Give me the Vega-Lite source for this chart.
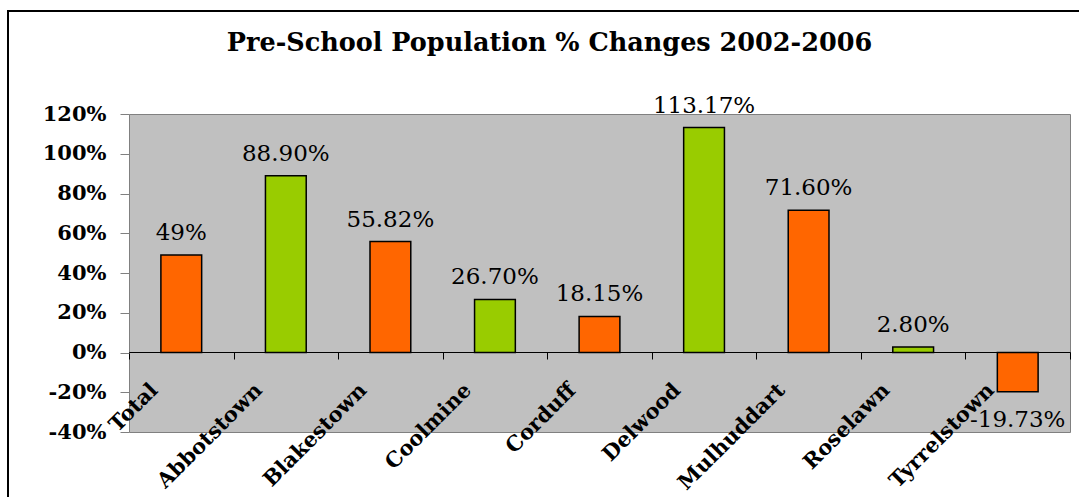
{
  "$schema": "https://vega.github.io/schema/vega-lite/v6.json",
  "width": 941,
  "height": 318,
  "autosize": {"type": "none"},
  "padding": {"left": 129, "top": 114, "right": 9, "bottom": 65},
  "background": "white",
  "config": {
    "view": {"fill": "#C0C0C0", "stroke": "#808080", "strokeWidth": 1},
    "font": "DejaVu Serif",
    "axis": {"grid": false}
  },
  "title": {
    "text": "Pre-School Population % Changes 2002-2006",
    "font": "DejaVu Serif",
    "fontSize": 25.5,
    "fontWeight": "bold",
    "color": "black",
    "anchor": "middle",
    "frame": "group",
    "baseline": "alphabetic",
    "dx": -50,
    "offset": -66
  },
  "data": {
    "values": [
      {"area": "Total", "change": 49, "label": "49%", "group": "orange"},
      {"area": "Abbotstown", "change": 88.9, "label": "88.90%", "group": "green"},
      {"area": "Blakestown", "change": 55.82, "label": "55.82%", "group": "orange"},
      {"area": "Coolmine", "change": 26.7, "label": "26.70%", "group": "green"},
      {"area": "Corduff", "change": 18.15, "label": "18.15%", "group": "orange"},
      {"area": "Delwood", "change": 113.17, "label": "113.17%", "group": "green"},
      {"area": "Mulhuddart", "change": 71.6, "label": "71.60%", "group": "orange"},
      {"area": "Roselawn", "change": 2.8, "label": "2.80%", "group": "green"},
      {"area": "Tyrrelstown", "change": -19.73, "label": "-19.73%", "group": "orange"}
    ]
  },
  "layer": [
    {
      "data": {"values": [{}]},
      "mark": {"type": "rect", "filled": false, "stroke": "black", "strokeWidth": 2, "clip": false},
      "encoding": {
        "x": {"datum": 0, "type": "quantitative", "scale": {"domain": [0, 1], "range": [-121, 960]}, "axis": null},
        "x2": {"datum": 1},
        "y": {"datum": 0, "type": "quantitative", "scale": {"domain": [0, 1], "range": [400, -103]}, "axis": null},
        "y2": {"datum": 1}
      }
    },
    {
      "encoding": {
        "x": {
          "field": "area",
          "type": "nominal",
          "sort": null,
          "scale": {"paddingInner": 0, "paddingOuter": 0},
          "axis": {
            "orient": "bottom",
            "offset": -80,
            "title": null,
            "domainColor": "black",
            "domainWidth": 1,
            "tickBand": "extent",
            "tickColor": "black",
            "tickSize": 7,
            "labelAngle": -45,
            "labelAlign": "right",
            "labelBaseline": "top",
            "labelFont": "DejaVu Serif",
            "labelFontSize": 21,
            "labelFontWeight": "bold",
            "labelColor": "black",
            "labelOffset": -35,
            "labelPadding": 20,
            "labelOverlap": false,
            "labelBound": false,
            "labelFlush": false
          }
        },
        "y": {
          "field": "change",
          "type": "quantitative",
          "scale": {"domain": [-40, 120], "nice": false},
          "axis": {
            "title": null,
            "values": [-40, -20, 0, 20, 40, 60, 80, 100, 120],
            "labelExpr": "datum.value + '%'",
            "domain": false,
            "tickColor": "#808080",
            "tickSize": 9,
            "labelPadding": 14,
            "labelFont": "DejaVu Serif",
            "labelFontSize": 21,
            "labelFontWeight": "bold",
            "labelColor": "black"
          }
        }
      },
      "layer": [
        {
          "mark": {"type": "bar", "width": {"band": 0.39}, "stroke": "black", "strokeWidth": 1.5},
          "encoding": {
            "y2": {"datum": 0},
            "color": {
              "field": "group",
              "type": "nominal",
              "scale": {"domain": ["orange", "green"], "range": ["#FF6600", "#99CC00"]},
              "legend": null
            }
          }
        },
        {
          "transform": [{"filter": "datum.change >= 0"}],
          "mark": {"type": "text", "baseline": "alphabetic", "align": "center", "dy": -15, "font": "DejaVu Serif", "fontSize": 23, "color": "black"},
          "encoding": {"text": {"field": "label"}}
        },
        {
          "transform": [{"filter": "datum.change < 0"}],
          "mark": {"type": "text", "baseline": "alphabetic", "align": "center", "dy": 35, "font": "DejaVu Serif", "fontSize": 23, "color": "black"},
          "encoding": {"text": {"field": "label"}}
        }
      ]
    }
  ],
  "resolve": {"scale": {"x": "independent", "y": "independent"}}
}
